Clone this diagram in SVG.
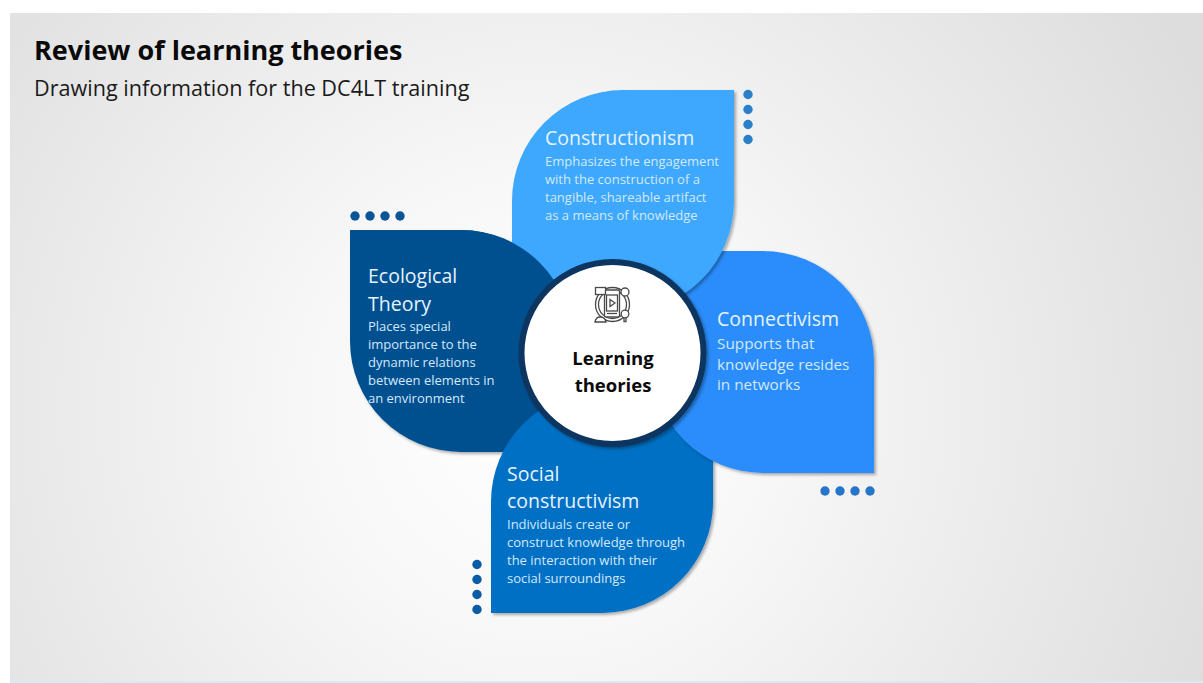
<svg xmlns="http://www.w3.org/2000/svg" width="1203" height="683" viewBox="0 0 1203 683">
<defs>
<radialGradient id="bg" gradientUnits="userSpaceOnUse" cx="540" cy="410" r="740"><stop offset="0" stop-color="#ffffff"/><stop offset="0.3" stop-color="#f8f8f8"/><stop offset="1" stop-color="#dddddd"/></radialGradient>
<filter id="sh" x="-10%" y="-10%" width="125%" height="125%"><feDropShadow dx="2" dy="2" stdDeviation="1.8" flood-color="#000" flood-opacity="0.32"/></filter>
<clipPath id="ecoTop"><rect x="340" y="220" width="240" height="115"/></clipPath>
<path id="ecoShape" d="M350 230H461A111 111 0 0 1 572 341V452H461A111 111 0 0 1 350 341Z" fill="#00508f"/>
</defs>
<style>
text{font-family:"Open Sans","Liberation Sans",sans-serif}
.h{font-size:19.5px;fill:#e6f3ff}
.b{font-size:13px;fill:#d3e8fb}
.c{font-size:18.5px;font-weight:700;fill:#0a0a0a;text-anchor:middle}
.i{fill:none;stroke:#4a4a4a;stroke-width:1.3}
</style>
<rect width="1203" height="683" fill="#fff"/>
<rect x="10" y="13" width="1193" height="668" fill="url(#bg)"/>
<rect x="10" y="681" width="1193" height="2" fill="#d3edf8"/>
<g id="title">
<text x="34" y="60" font-size="27" font-weight="700" fill="#0a0a0a">Review of learning theories</text>
<text x="34" y="96" font-size="21.6" fill="#1a1a1a">Drawing information for the DC4LT training</text>
</g>
<g id="connectors"/>
<g id="node-ecological-base"><use href="#ecoShape" filter="url(#sh)"/></g>
<g id="node-social">
<path d="M491 613V502A111 111 0 0 1 602 391H713V502A111 111 0 0 1 602 613Z" fill="#0270c4" filter="url(#sh)"/>
<g fill="#0a5da5"><circle cx="477" cy="564.5" r="4.7"/><circle cx="477" cy="579.5" r="4.7"/><circle cx="477" cy="594.5" r="4.7"/><circle cx="477" cy="609.5" r="4.7"/></g>
<text class="h" x="507" y="481">Social</text>
<text class="h" x="507" y="508">constructivism</text>
<text class="b" x="507" y="529">Individuals create or</text>
<text class="b" x="507" y="547">construct knowledge through</text>
<text class="b" x="507" y="565">the interaction with their</text>
<text class="b" x="507" y="583">social surroundings</text>
</g>
<g id="node-connectivism">
<path d="M652 251H763A111 111 0 0 1 874 362V473H763A111 111 0 0 1 652 362Z" fill="#2b8dfb" filter="url(#sh)"/>
<g fill="#2575c8"><circle cx="825" cy="491" r="4.7"/><circle cx="840" cy="491" r="4.7"/><circle cx="855" cy="491" r="4.7"/><circle cx="870" cy="491" r="4.7"/></g>
<text class="h" x="717" y="326">Connectivism</text>
<text class="b" x="717" y="349" style="font-size:15.3px">Supports that</text>
<text class="b" x="717" y="369.5" style="font-size:15.3px">knowledge resides</text>
<text class="b" x="717" y="390" style="font-size:15.3px">in networks</text>
</g>
<g id="node-constructionism">
<path d="M734 90V201A111 111 0 0 1 623 312H512V201A111 111 0 0 1 623 90Z" fill="#3ea8fe" filter="url(#sh)"/>
<g fill="#2a7fc8"><circle cx="748" cy="94.5" r="4.7"/><circle cx="748" cy="109.5" r="4.7"/><circle cx="748" cy="124.5" r="4.7"/><circle cx="748" cy="139.5" r="4.7"/></g>
<text class="h" x="545" y="145">Constructionism</text>
<text class="b" x="545" y="166">Emphasizes the engagement</text>
<text class="b" x="545" y="184">with the construction of a</text>
<text class="b" x="545" y="202">tangible, shareable artifact</text>
<text class="b" x="545" y="220">as a means of knowledge</text>
</g>
<g id="node-ecological">
<use href="#ecoShape" clip-path="url(#ecoTop)"/>
<g fill="#0a5596"><circle cx="355" cy="216" r="4.7"/><circle cx="370" cy="216" r="4.7"/><circle cx="385" cy="216" r="4.7"/><circle cx="400" cy="216" r="4.7"/></g>
<text class="h" x="368" y="283">Ecological</text>
<text class="h" x="368" y="310.5">Theory</text>
<text class="b" x="368" y="331">Places special</text>
<text class="b" x="368" y="349">importance to the</text>
<text class="b" x="368" y="367">dynamic relations</text>
<text class="b" x="368" y="385">between elements in</text>
<text class="b" x="368" y="403">an environment</text>
</g>
<g id="node-center">
<circle cx="612.5" cy="353" r="91" fill="#fff" stroke="#0a355f" stroke-width="6" filter="url(#sh)"/>
<g class="i">
<circle cx="612.5" cy="304.5" r="17"/><circle cx="612.5" cy="304.5" r="14"/>
<rect x="604.5" y="290" width="15" height="27" rx="1.5" fill="#fff"/>
<rect x="606.5" y="295" width="11" height="16"/>
<path d="M610 299.5l5 3.5l-5 3.5Z"/>
<path d="M607 313.5h10"/>
<rect x="595.5" y="287.5" width="10" height="7" fill="#fff"/>
<circle cx="625" cy="292" r="4" fill="#fff"/>
<path d="M595 322q1-5 5-5q5 0 6 5Z" fill="#fff"/>
<circle cx="625" cy="314" r="3.8" fill="#fff"/><path d="M624 318v3.5h2v-3.5"/>
</g>
<text class="c" x="613" y="365">Learning</text>
<text class="c" x="613" y="392">theories</text>
</g>
</svg>
